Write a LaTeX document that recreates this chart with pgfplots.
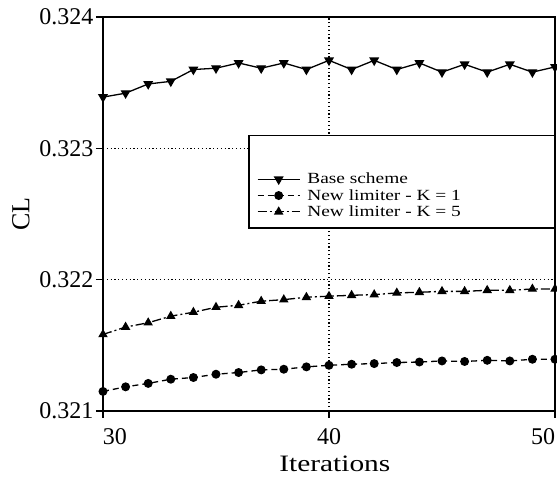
\documentclass[border=0pt]{standalone}
\usepackage{pgfplots}
\pgfplotsset{compat=1.18}
\usepackage{fontspec}
\setmainfont{Liberation Serif}
\newfontfamily\stretchfont[FakeStretch=1.25]{Liberation Serif}
\begin{document}
\begin{tikzpicture}
\begin{axis}[
 at={(0,0)}, anchor=south west,
 scale only axis, width=452pt, height=394pt,
 xmin=30, xmax=50, ymin=0.321, ymax=0.324,
 xtick={30,40,50},
 xticklabels={{\makebox[0pt][l]{30}},{40},{\makebox[0pt][r]{50}\hspace{2pt}}},
 ytick={0.321,0.322,0.323,0.324},
 scaled y ticks=false,
 /pgf/number format/assume math mode=true,
 yticklabel style={xshift=1pt, /pgf/number format/.cd, fixed, fixed zerofill, precision=3},
 ticklabel style={font=\fontsize{24}{24}\selectfont},
 xticklabel style={yshift=-7pt},
 axis line style={line width=2pt},
 tick align=outside, tick pos=left, major tick length=7pt,
 tick style={black, line width=1.5pt},
 grid=major,
 major grid style={black, line width=1.2pt, dash pattern=on 1.2pt off 2.6pt},
 xlabel={Iterations}, ylabel={CL},
 every axis x label/.style={at={(axis description cs:0.513,-0.1345)}, anchor=center, font=\stretchfont\fontsize{23.5}{23.5}\selectfont},
 every axis y label/.style={at={(axis description cs:-0.1814,0.5)}, rotate=90, anchor=center, font=\fontsize{26}{26}\selectfont},
 legend style={at={(1,0.7005)}, anchor=north east, draw=black, line width=1.3pt, fill=white,
   font=\stretchfont\fontsize{15.5}{15.5}\selectfont, inner xsep=8pt, inner ysep=8pt, row sep=0pt,
   column sep=5pt, nodes={inner sep=2pt}, cells={anchor=west}},
 legend image code/.code={\draw[mark repeat=2,mark phase=2,#1] plot coordinates {(0pt,0pt) (21pt,0pt) (42pt,0pt)};},
]
\addlegendimage{empty legend}
\addlegendentry{\rule{0pt}{22pt}}
\addplot[black, line width=1.3pt, mark=triangle*, mark size=4.5pt, mark options={solid, rotate=180}] table {
x y
30 0.32339
31 0.32342
32 0.32349
33 0.32351
34 0.32360
35 0.32361
36 0.32365
37 0.32361
38 0.32365
39 0.32360
40 0.32367
41 0.32360
42 0.32367
43 0.32360
44 0.32365
45 0.32358
46 0.32364
47 0.32358
48 0.32364
49 0.32358
50 0.32362
};
\addlegendentry{\makebox[237pt][l]{Base scheme}}
\addplot[black, line width=1.3pt, dash pattern=on 6pt off 4pt, mark=*, mark size=3.8pt, mark options={solid}] table {
x y
30 0.321149
31 0.321184
32 0.321210
33 0.321242
34 0.321255
35 0.321280
36 0.321293
37 0.321313
38 0.321318
39 0.321336
40 0.321348
41 0.321356
42 0.321361
43 0.321369
44 0.321373
45 0.321381
46 0.321377
47 0.321386
48 0.321381
49 0.321394
50 0.321394
};
\addlegendentry{\makebox[237pt][l]{New limiter - K = 1}}
\addplot[black, line width=1.3pt, dash pattern=on 9pt off 3pt on 2pt off 3pt, mark=triangle*, mark size=4.2pt, mark options={solid}] table {
x y
30 0.321583
31 0.321639
32 0.321672
33 0.321722
34 0.321752
35 0.321790
36 0.321805
37 0.321836
38 0.321848
39 0.321866
40 0.321874
41 0.321881
42 0.321886
43 0.321899
44 0.321904
45 0.321911
46 0.321911
47 0.321919
48 0.321919
49 0.321929
50 0.321929
};
\addlegendentry{\makebox[237pt][l]{New limiter - K = 5}}
\end{axis}
\pgfresetboundingbox
\path[use as bounding box] (-103pt,-70pt) rectangle (454pt,411pt);
\end{tikzpicture}
\end{document}
